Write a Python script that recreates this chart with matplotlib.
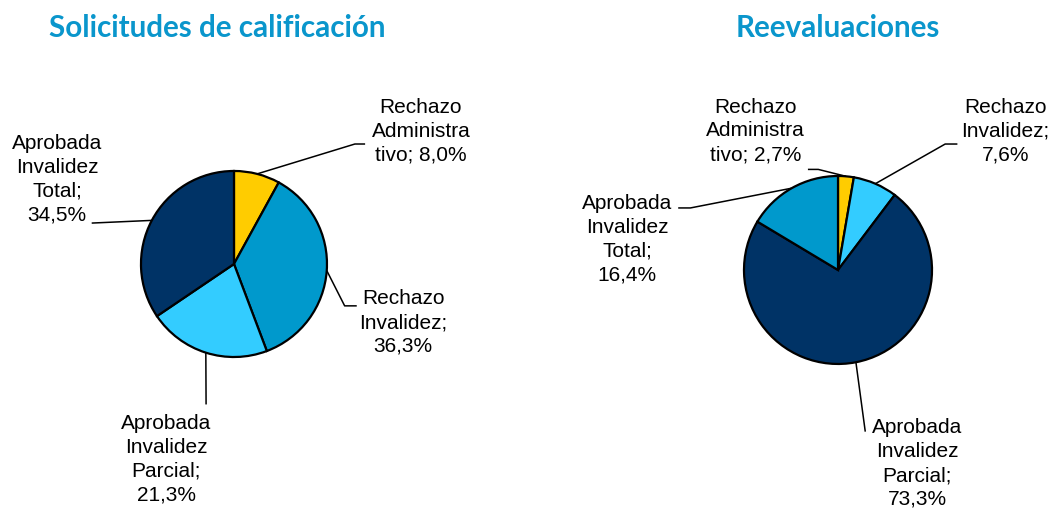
import numpy as np
import matplotlib
matplotlib.use('Agg')
import matplotlib.pyplot as plt

plt.rcParams['font.family'] = ['Liberation Sans', 'DejaVu Sans']

# data
titles = ['Solicitudes de calificación', 'Reevaluaciones']

labels1 = ['Rechazo\nAdministra\ntivo', 'Rechazo\nInvalidez;', 'Aprobada\nInvalidez\nParcial;', 'Aprobada\nInvalidez\nTotal;']
values1 = [8.0, 36.3, 21.3, 34.5]
colors1 = ['#FFCC00', '#0099CC', '#33CCFF', '#003366']

labels2 = ['Rechazo\nAdministra\ntivo', 'Rechazo\nInvalidez;', 'Aprobada\nInvalidez\nParcial;', 'Aprobada\nInvalidez\nTotal;']
values2 = [2.7, 7.6, 73.3, 16.4]
colors2 = ['#FFCC00', '#33CCFF', '#003366', '#0099CC']

# label layout (radius units): text centre, elbow, line end
text_pos1 = [(2.01, 1.44), (1.82, -0.62), (-0.73, -2.09), (-1.90, 0.92)]
elbow1 = [(1.30, 1.29), (1.19, -0.45), None, None]
end1 = [(1.41, 1.29), (1.32, -0.45), (-0.30, -1.51), (-1.53, 0.44)]

text_pos2 = [(-0.88, 1.49), (1.78, 1.49), (0.84, -2.05), (-2.24, 0.34)]
elbow2 = [(-0.21, 1.07), (1.14, 1.34), None, (-1.57, 0.66)]
end2 = [(-0.32, 1.07), (1.27, 1.34), (0.29, -1.72), (-1.70, 0.66)]


def fmt(lab, v):
    pct = ('%.1f' % v).replace('.', ',') + '%'
    if lab.endswith('tivo'):
        return lab + '; ' + pct
    return lab + '\n' + pct


def draw_pie(ax, values, colors, labels, tpos, elbows, ends):
    wedges, _ = ax.pie(values, colors=colors, startangle=90, counterclock=False,
                       radius=1, wedgeprops=dict(edgecolor='black', linewidth=1.6))
    for w, lab, v, tp, el, en in zip(wedges, labels, values, tpos, elbows, ends):
        ang = np.deg2rad((w.theta1 + w.theta2) / 2)
        x0, y0 = np.cos(ang), np.sin(ang)
        if el is None:
            xs, ys = [x0, en[0]], [y0, en[1]]
        else:
            xs, ys = [x0, el[0], en[0]], [y0, el[1], en[1]]
        ax.plot(xs, ys, color='black', lw=1.1, solid_capstyle='butt')
        ax.text(tp[0], tp[1], fmt(lab, v), ha='center', va='center',
                fontsize=15, linespacing=1.32)


fig = plt.figure(figsize=(10.53, 5.10), dpi=100)

ax1 = fig.add_axes([0, 0, 526 / 1053, 1])
draw_pie(ax1, values1, colors1, labels1, text_pos1, elbow1, end1)
ax1.set_aspect('auto')
ax1.set_xlim(-2.516, 3.140)
ax1.set_ylim(-2.634, 2.849)
ax1.axis('off')

ax2 = fig.add_axes([526 / 1053, 0, 527 / 1053, 1])
draw_pie(ax2, values2, colors2, labels2, text_pos2, elbow2, end2)
ax2.set_aspect('auto')
ax2.set_xlim(-3.319, 2.287)
ax2.set_ylim(-2.543, 2.883)
ax2.axis('off')

fig.text(217 / 1053, 1 - 28 / 510, titles[0], ha='center', va='center',
         fontsize=21.3, fontweight='bold', color='#0A96CC', family='Lato')
fig.text(838 / 1053, 1 - 28 / 510, titles[1], ha='center', va='center',
         fontsize=21.3, fontweight='bold', color='#0A96CC', family='Lato')

fig.savefig('out.png', dpi=100)
